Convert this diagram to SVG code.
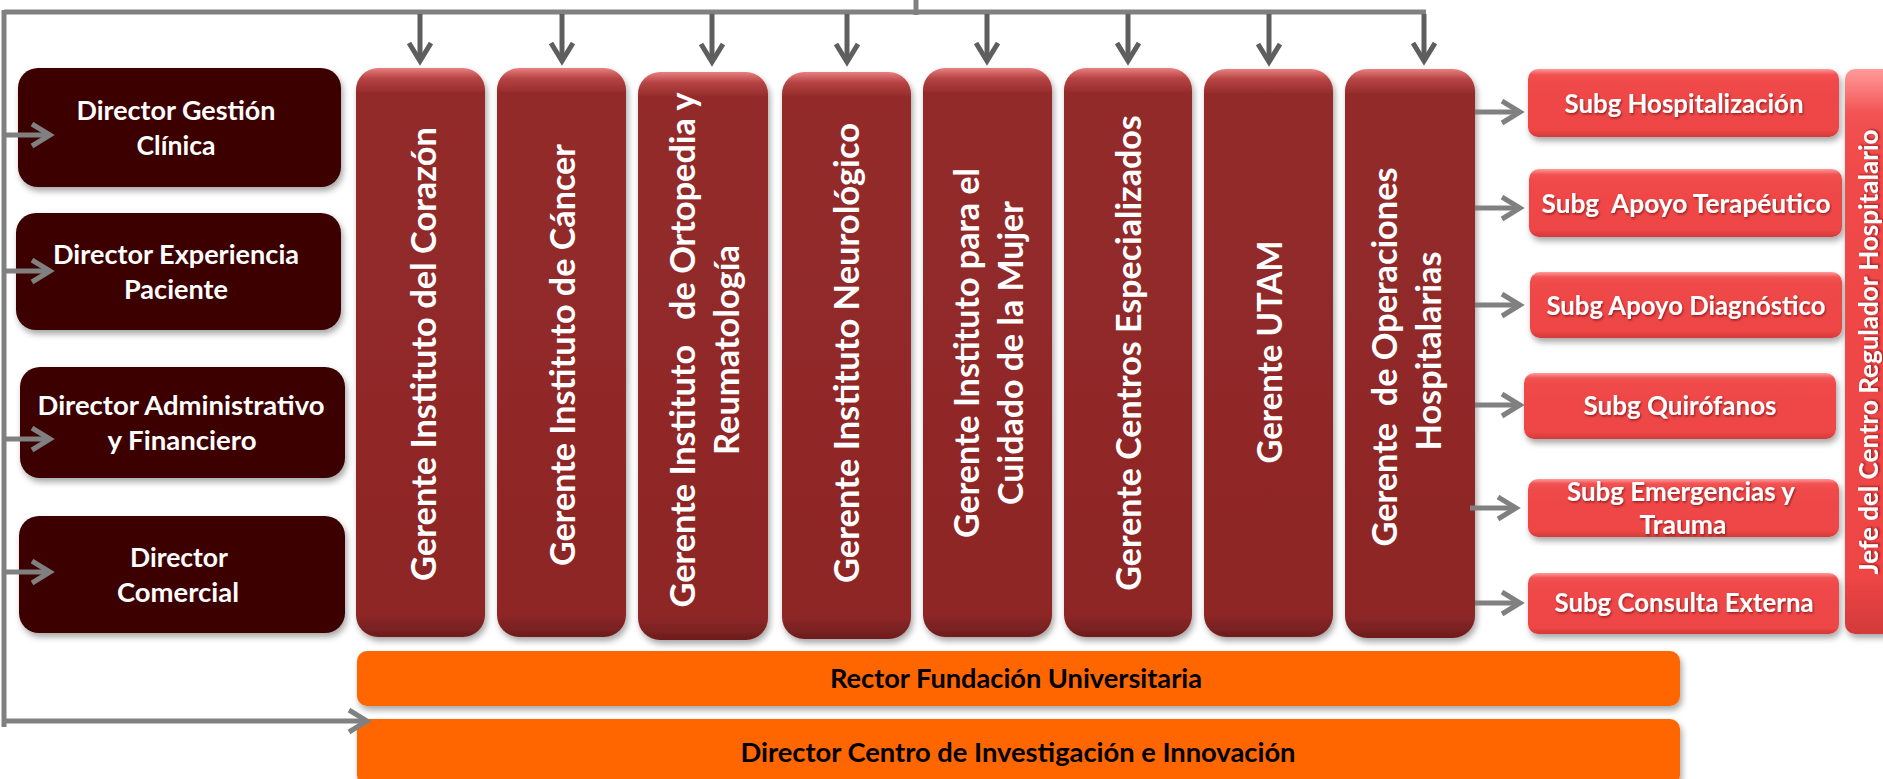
<svg xmlns="http://www.w3.org/2000/svg" width="1883" height="779" viewBox="0 0 1883 779">
<defs>
<style>
.bg{fill:#FFFFFF}
.lb{fill:#3C0000}
.mb{fill:url(#gM)}
.rb{fill:url(#gR)}
.ob{fill:#FF6600}
.t{font-family:Lato,"Open Sans","Liberation Sans",sans-serif;font-weight:700;text-anchor:middle}
.w{fill:#FFFFFF}
.k{fill:#000000}
.f27{font-size:27px}
.f34{font-size:34px}
.f26{font-size:26px}
.ln{fill:none;stroke:#808080;stroke-width:5}
.ad{fill:none;stroke:#5E5E5E;stroke-width:5;marker-end:url(#mD)}
.as{fill:none;stroke:#808080;stroke-width:5;marker-end:url(#mS)}
</style>
<linearGradient id="gM" x1="0" y1="0" x2="0" y2="1">
<stop offset="0" stop-color="#E88080"/>
<stop offset="0.018" stop-color="#B84444"/>
<stop offset="0.045" stop-color="#932A2A"/>
<stop offset="0.96" stop-color="#8E2727"/>
<stop offset="1" stop-color="#6E1D1D"/>
</linearGradient>
<linearGradient id="gR" x1="0" y1="0" x2="0" y2="1">
<stop offset="0" stop-color="#FF9A9A"/>
<stop offset="0.08" stop-color="#F25252"/>
<stop offset="0.2" stop-color="#F04848"/>
<stop offset="0.9" stop-color="#EE4545"/>
<stop offset="1" stop-color="#D23A3A"/>
</linearGradient>
<filter id="sh" x="-10%" y="-10%" width="125%" height="125%">
<feDropShadow dx="2" dy="4" stdDeviation="3" flood-color="#000000" flood-opacity="0.35"/>
</filter>
<filter id="tsh" x="-5%" y="-20%" width="115%" height="150%">
<feDropShadow dx="1" dy="1.5" stdDeviation="1" flood-color="#5A0000" flood-opacity="0.6"/>
</filter>
<marker id="mD" markerUnits="userSpaceOnUse" markerWidth="30" markerHeight="30" refX="21" refY="13" orient="auto">
<path d="M3,2 L21,13 L3,24" fill="none" stroke="#5E5E5E" stroke-width="5"/>
</marker>
<marker id="mS" markerUnits="userSpaceOnUse" markerWidth="30" markerHeight="30" refX="21" refY="13" orient="auto">
<path d="M3,2 L21,13 L3,24" fill="none" stroke="#808080" stroke-width="5"/>
</marker>
</defs>
<rect class="bg" x="0" y="0" width="1883" height="779"/>

<g id="dir-gestion-clinica">
<rect class="lb" x="18" y="68" width="323" height="119" rx="20" filter="url(#sh)"/>
<text class="t w f27" x="176" y="120" textLength="199" lengthAdjust="spacingAndGlyphs">Director Gestión</text>
<text class="t w f27" x="176" y="155" textLength="79" lengthAdjust="spacingAndGlyphs">Clínica</text>
</g>
<g id="dir-experiencia-paciente">
<rect class="lb" x="16" y="213" width="325" height="117" rx="20" filter="url(#sh)"/>
<text class="t w f27" x="176" y="264" textLength="246" lengthAdjust="spacingAndGlyphs">Director Experiencia</text>
<text class="t w f27" x="176" y="299" textLength="104" lengthAdjust="spacingAndGlyphs">Paciente</text>
</g>
<g id="dir-administrativo">
<rect class="lb" x="20" y="367" width="325" height="111" rx="20" filter="url(#sh)"/>
<text class="t w f27" x="181" y="415" textLength="287" lengthAdjust="spacingAndGlyphs">Director Administrativo</text>
<text class="t w f27" x="182" y="450" textLength="149" lengthAdjust="spacingAndGlyphs">y Financiero</text>
</g>
<g id="dir-comercial">
<rect class="lb" x="19" y="516" width="326" height="117" rx="20" filter="url(#sh)"/>
<text class="t w f27" x="179" y="567" textLength="98" lengthAdjust="spacingAndGlyphs">Director</text>
<text class="t w f27" x="178" y="602" textLength="122" lengthAdjust="spacingAndGlyphs">Comercial</text>
</g>

<g id="ger-corazon">
<rect class="mb" x="356" y="68" width="129" height="569" rx="22" filter="url(#sh)"/>
<text class="t w f34" transform="translate(436,354) rotate(-90)" textLength="454" lengthAdjust="spacingAndGlyphs">Gerente Instituto del Corazón</text>
</g>
<g id="ger-cancer">
<rect class="mb" x="497" y="68" width="129" height="569" rx="22" filter="url(#sh)"/>
<text class="t w f34" transform="translate(575,355) rotate(-90)" textLength="422" lengthAdjust="spacingAndGlyphs">Gerente Instituto de Cáncer</text>
</g>
<g id="ger-ortopedia">
<rect class="mb" x="638" y="72" width="130" height="568" rx="22" filter="url(#sh)"/>
<text class="t w f34" transform="translate(695,350) rotate(-90)" xml:space="preserve" textLength="515" lengthAdjust="spacingAndGlyphs">Gerente Instituto   de Ortopedia y</text>
<text class="t w f34" transform="translate(739,350) rotate(-90)" textLength="210" lengthAdjust="spacingAndGlyphs">Reumatología</text>
</g>
<g id="ger-neurologico">
<rect class="mb" x="782" y="72" width="129" height="567" rx="22" filter="url(#sh)"/>
<text class="t w f34" transform="translate(859,353) rotate(-90)" textLength="460" lengthAdjust="spacingAndGlyphs">Gerente Instituto Neurológico</text>
</g>
<g id="ger-mujer">
<rect class="mb" x="923" y="68" width="129" height="569" rx="22" filter="url(#sh)"/>
<text class="t w f34" transform="translate(979,353) rotate(-90)">Gerente Instituto para el</text>
<text class="t w f34" transform="translate(1023,353) rotate(-90)">Cuidado de la Mujer</text>
</g>
<g id="ger-centros">
<rect class="mb" x="1064" y="68" width="128" height="569" rx="22" filter="url(#sh)"/>
<text class="t w f34" transform="translate(1141,353) rotate(-90)">Gerente Centros Especializados</text>
</g>
<g id="ger-utam">
<rect class="mb" x="1204" y="69" width="129" height="568" rx="22" filter="url(#sh)"/>
<text class="t w f34" transform="translate(1282,352) rotate(-90)" textLength="223" lengthAdjust="spacingAndGlyphs">Gerente UTAM</text>
</g>
<g id="ger-operaciones">
<rect class="mb" x="1345" y="69" width="130" height="569" rx="22" filter="url(#sh)"/>
<text class="t w f34" transform="translate(1397,357) rotate(-90)" xml:space="preserve" textLength="379" lengthAdjust="spacingAndGlyphs">Gerente  de Operaciones</text>
<text class="t w f34" transform="translate(1441,351) rotate(-90)" textLength="199" lengthAdjust="spacingAndGlyphs">Hospitalarias</text>
</g>

<g id="subg-hospitalizacion">
<rect class="rb" x="1528" y="69" width="311" height="68" rx="10" filter="url(#sh)"/>
<text class="t w f26" x="1684" y="113" filter="url(#tsh)" textLength="239" lengthAdjust="spacingAndGlyphs">Subg Hospitalización</text>
</g>
<g id="subg-apoyo-terapeutico">
<rect class="rb" x="1529" y="169" width="313" height="68" rx="10" filter="url(#sh)"/>
<text class="t w f26" x="1686" y="213" xml:space="preserve" filter="url(#tsh)" textLength="289" lengthAdjust="spacingAndGlyphs">Subg  Apoyo Terapéutico</text>
</g>
<g id="subg-apoyo-diagnostico">
<rect class="rb" x="1530" y="272" width="312" height="66" rx="10" filter="url(#sh)"/>
<text class="t w f26" x="1686" y="315" filter="url(#tsh)" textLength="279" lengthAdjust="spacingAndGlyphs">Subg Apoyo Diagnóstico</text>
</g>
<g id="subg-quirofanos">
<rect class="rb" x="1524" y="373" width="312" height="66" rx="10" filter="url(#sh)"/>
<text class="t w f26" x="1680" y="415" filter="url(#tsh)" textLength="193" lengthAdjust="spacingAndGlyphs">Subg Quirófanos</text>
</g>
<g id="subg-emergencias">
<rect class="rb" x="1528" y="479" width="311" height="58" rx="10" filter="url(#sh)"/>
<text class="t w f26" x="1681" y="501" filter="url(#tsh)" textLength="228" lengthAdjust="spacingAndGlyphs">Subg Emergencias y</text>
<text class="t w f26" x="1683" y="534" filter="url(#tsh)" textLength="87" lengthAdjust="spacingAndGlyphs">Trauma</text>
</g>
<g id="subg-consulta-externa">
<rect class="rb" x="1528" y="573" width="311" height="61" rx="10" filter="url(#sh)"/>
<text class="t w f26" x="1684" y="612" filter="url(#tsh)" textLength="259" lengthAdjust="spacingAndGlyphs">Subg Consulta Externa</text>
</g>
<g id="jefe-centro-regulador">
<rect class="rb" x="1845" y="69" width="48" height="565" rx="10" filter="url(#sh)"/>
<text class="t w f26" transform="translate(1878,352) rotate(-90)" filter="url(#tsh)" textLength="445" lengthAdjust="spacingAndGlyphs">Jefe del Centro Regulador Hospitalario</text>
</g>

<g id="rector-fundacion">
<rect class="ob" x="357" y="651" width="1323" height="55" rx="10" filter="url(#sh)"/>
<text class="t k f27" x="1016" y="688" textLength="372" lengthAdjust="spacingAndGlyphs">Rector Fundación Universitaria</text>
</g>
<g id="dir-investigacion">
<rect class="ob" x="357" y="719" width="1323" height="66" rx="10" filter="url(#sh)"/>
<text class="t k f27" x="1018" y="762" textLength="555" lengthAdjust="spacingAndGlyphs">Director Centro de Investigación e Innovación</text>
</g>

<g id="connectors">
<path class="ln" d="M916,0 V15"/>
<path class="ln" d="M4,12 H1426"/>
<path class="ln" d="M4,10 V727"/>
<path class="ad" d="M420,14 V61"/>
<path class="ad" d="M562,14 V61"/>
<path class="ad" d="M712,14 V62"/>
<path class="ad" d="M847,14 V62"/>
<path class="ad" d="M987,14 V61"/>
<path class="ad" d="M1128,14 V61"/>
<path class="ad" d="M1269,14 V62"/>
<path class="ad" d="M1424,14 V61"/>
<path class="as" d="M4,135 H50"/>
<path class="as" d="M4,271 H50"/>
<path class="as" d="M4,439 H50"/>
<path class="as" d="M4,572 H50"/>
<path class="as" d="M4,721 H367"/>
<path class="as" d="M1475,112 H1520"/>
<path class="as" d="M1475,208 H1520"/>
<path class="as" d="M1475,305 H1520"/>
<path class="as" d="M1475,405 H1520"/>
<path class="as" d="M1470,508 H1516"/>
<path class="as" d="M1475,603 H1520"/>
</g>
</svg>
